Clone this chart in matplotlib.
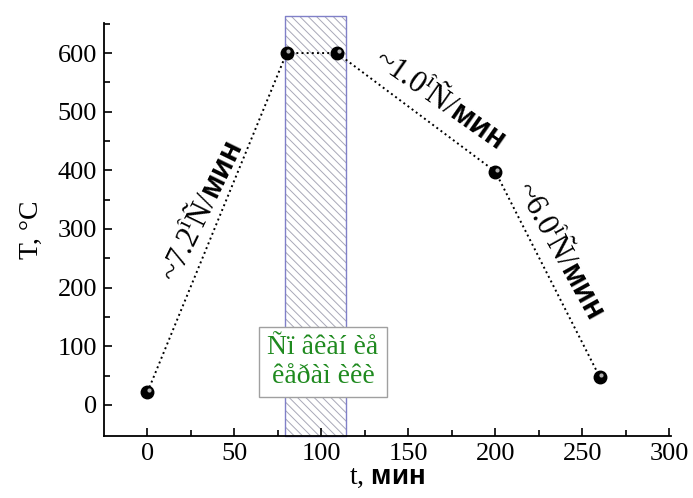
import matplotlib.pyplot as plt
import matplotlib.transforms as mtransforms

plt.rcParams['font.family'] = ['Liberation Serif', 'DejaVu Serif']
plt.rcParams['mathtext.fontset'] = 'custom'
plt.rcParams['mathtext.rm'] = 'Liberation Serif'
plt.rcParams['mathtext.sf'] = 'Liberation Sans:bold'
plt.rcParams['hatch.linewidth'] = 0.7

# данные
t_vals = [0, 80, 109, 200, 260]
T_vals = [22, 600, 600, 398, 48]
hold_start, hold_end = 79, 114
rate_labels = ["~7.2", "~1.0", "~6.0"]
box_text = "Ñï âêàí èå\nêåðàì èêè"

fig = plt.figure(figsize=(6.93, 4.98), dpi=100)
ax = fig.add_axes([0.1501, 0.1245, 0.818, 0.829])

# заштрихованная область выдержки
ax.fill_between([hold_start, hold_end], -53, 664, facecolor="white",
                edgecolor="#a8a8b8", hatch="\\\\\\\\", linewidth=0,
                clip_on=False, zorder=1)
ax.fill_between([hold_start, hold_end], -53, 664, facecolor="none",
                edgecolor="#8080c8", linewidth=1.0, clip_on=False, zorder=1)

# линия и точки
ax.plot(t_vals, T_vals, linestyle=":", color="black", linewidth=1.4, zorder=2)
ax.plot(t_vals, T_vals, "o", color="black", markersize=9, zorder=3, clip_on=False)
glint = ax.transData + mtransforms.ScaledTranslation(1.5 / 100, 2 / 100,
                                                     fig.dpi_scale_trans)
ax.plot(t_vals, T_vals, "o", color="#b0b0b0", markersize=3, zorder=4,
        markeredgewidth=0, clip_on=False, transform=glint)

# подписи скоростей
suffix = r"$^{\mathrm{î}}$Ñ/$\mathsf{мин}$"
ax.text(31.5, 329, rate_labels[0] + suffix, rotation=64, fontsize=22,
        ha="center", va="center")
ax.text(168, 520, rate_labels[1] + suffix, rotation=-35, fontsize=22,
        ha="center", va="center")
ax.text(237, 264, rate_labels[2] + suffix, rotation=-61, fontsize=22,
        ha="center", va="center")

# текст в рамке
ax.text(101, 73, box_text, fontsize=20, color="#1f8a1f", ha="center",
        va="center", linespacing=1.2, zorder=5,
        bbox=dict(boxstyle="square,pad=0.3", facecolor="white",
                  edgecolor="#a0a0a0", linewidth=1.0))

ax.set_xlim(-25, 301)
ax.set_ylim(-53, 651)
ax.set_xticks([0, 50, 100, 150, 200, 250, 300])
ax.set_xticks(range(25, 300, 50), minor=True)
ax.set_yticks(range(0, 601, 100))
ax.set_yticks(range(50, 651, 100), minor=True)
ax.tick_params(direction="in", labelsize=19, length=6, width=1.2, pad=5)
ax.tick_params(which="minor", direction="in", length=4, width=1.2)
ax.spines["top"].set_visible(False)
ax.spines["right"].set_visible(False)
ax.spines["left"].set_linewidth(1.3)
ax.spines["bottom"].set_linewidth(1.3)

ax.set_xlabel(r"t, $\mathsf{мин}$", fontsize=20, labelpad=0)
ax.set_ylabel("T, °C", fontsize=20, labelpad=10)

fig.savefig("out.png", dpi=100)
